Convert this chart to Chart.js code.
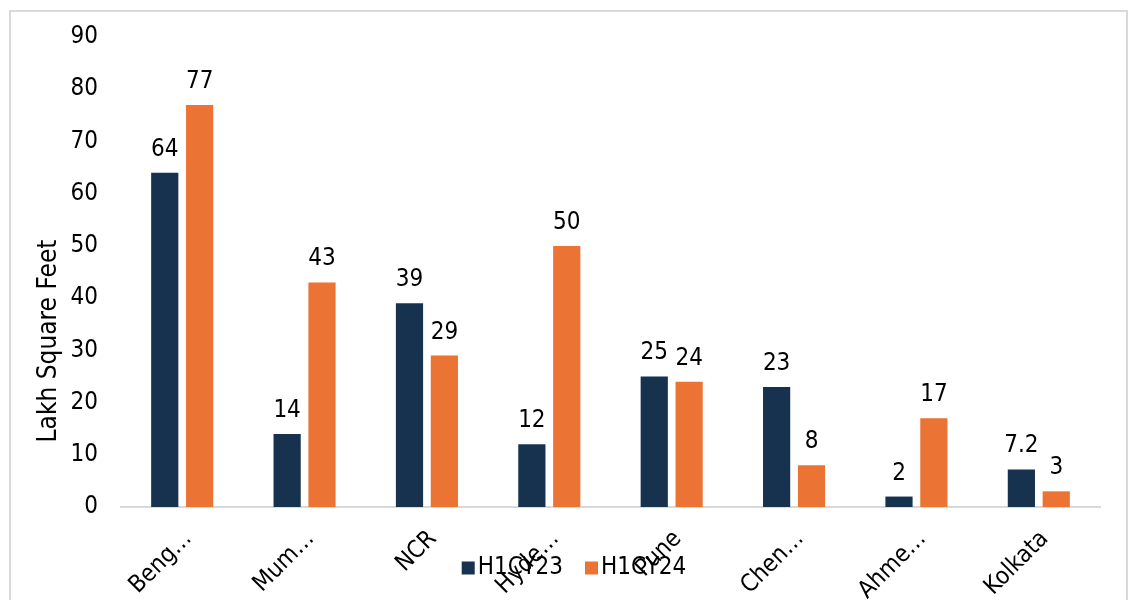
<!DOCTYPE html>
<html>
<head>
<meta charset="utf-8">
<script src="https://cdn.jsdelivr.net/npm/chart.js@4"></script>
<style>
  body { margin: 0; background: #fff; }
  #frame { position: absolute; left: 9px; top: 10px; width: 1119px; height: 600px; border: 2px solid #d9d9d9; box-sizing: border-box; }
  #leaseChart { position: absolute; left: 0; top: 0; }
</style>
</head>
<body>
<div id="frame"></div>
<canvas id="leaseChart" width="1129" height="600"></canvas>
<script>
// Leasing por ciudad, H1CY23 vs H1CY24 (lakh sq ft)
const cities = ['Beng…', 'Mum…', 'NCR', 'Hyde…', 'Pune', 'Chen…', 'Ahme…', 'Kolkata'];
const h1cy23 = [64, 14, 39, 12, 25, 23, 2, 7.2];
const h1cy24 = [77, 43, 29, 50, 24, 8, 17, 3];
const yTicks = [0, 10, 20, 30, 40, 50, 60, 70, 80, 90];
const yTitle = 'Lakh Square Feet';

const FONT = '"DejaVu Sans Condensed", "DejaVu Sans"';

// etiquetas encima de cada barra
const valueLabels = {
    id: 'valueLabels',
    afterDatasetsDraw(chart) {
        const ctx = chart.ctx;
        ctx.save();
        ctx.font = '24px ' + FONT;
        ctx.fillStyle = '#000';
        ctx.textAlign = 'center';
        ctx.textBaseline = 'alphabetic';
        chart.data.datasets.forEach((ds, i) => {
            chart.getDatasetMeta(i).data.forEach((bar, j) => {
                ctx.fillText(String(ds.data[j]), bar.x, bar.y - 17);
            });
        });
        ctx.restore();
    }
};

// titulo del eje Y, algo por debajo del centro como en el original
const axisTitle = {
    id: 'axisTitle',
    afterDraw(chart) {
        const ctx = chart.ctx;
        ctx.save();
        ctx.font = '26px ' + FONT;
        ctx.fillStyle = '#000';
        ctx.textAlign = 'center';
        ctx.textBaseline = 'middle';
        ctx.translate(49, 341);
        ctx.rotate(-Math.PI / 2);
        ctx.fillText(yTitle, 0, 0);
        ctx.restore();
    }
};

// leyenda dibujada a mano (se solapa con las etiquetas como en el original)
const bottomLegend = {
    id: 'bottomLegend',
    afterDraw(chart) {
        const ctx = chart.ctx;
        ctx.save();
        ctx.font = '24px ' + FONT;
        ctx.textBaseline = 'middle';
        const box = 13, gap = 3, spacing = 22;
        const items = chart.data.datasets.map(ds => ({
            text: ds.label, color: ds.backgroundColor, w: ctx.measureText(ds.label).width
        }));
        const total = items.reduce((s, it) => s + box + gap + it.w, 0) + spacing * (items.length - 1);
        let x = 574 - total / 2;
        const y = 568;
        items.forEach(it => {
            ctx.fillStyle = it.color;
            ctx.fillRect(x, y - box / 2, box, box);
            x += box + gap;
            ctx.fillStyle = '#000';
            ctx.fillText(it.text, x, y);
            x += it.w + spacing;
        });
        ctx.restore();
    }
};

const config = {
    type: 'bar',
    data: {
        labels: cities,
        datasets: [{
            label: 'H1CY23',
            data: h1cy23,
            backgroundColor: '#17324f',
            categoryPercentage: 0.57,
            barPercentage: 0.78
        }, {
            label: 'H1CY24',
            data: h1cy24,
            backgroundColor: '#eb7333',
            categoryPercentage: 0.57,
            barPercentage: 0.78
        }]
    },
    options: {
        responsive: false,
        animation: false,
        layout: { padding: { top: 37, right: 29, left: 0, bottom: 0 } },
        scales: {
            x: {
                grid: { display: false },
                border: { display: true, color: '#d9d9d9', width: 2 },
                ticks: {
                    color: '#000',
                    font: { family: FONT, size: 24 },
                    maxRotation: 45,
                    minRotation: 45,
                    padding: 10,
                    labelOffset: 6
                },
                afterFit(scale) { scale.height = 93; }
            },
            y: {
                min: 0,
                max: 90,
                grid: { display: false },
                border: { display: false },
                afterBuildTicks(scale) { scale.ticks = yTicks.map(v => ({ value: v })); },
                ticks: {
                    color: '#000',
                    font: { family: FONT, size: 24 },
                    padding: 15
                },
                afterFit(scale) { scale.width = 121; }
            }
        },
        plugins: {
            legend: { display: false },
            tooltip: { enabled: false }
        }
    },
    plugins: [valueLabels, axisTitle, bottomLegend]
};

const ctx = document.getElementById('leaseChart').getContext('2d');
const leaseChart = new Chart(ctx, config);
</script>
</body>
</html>
